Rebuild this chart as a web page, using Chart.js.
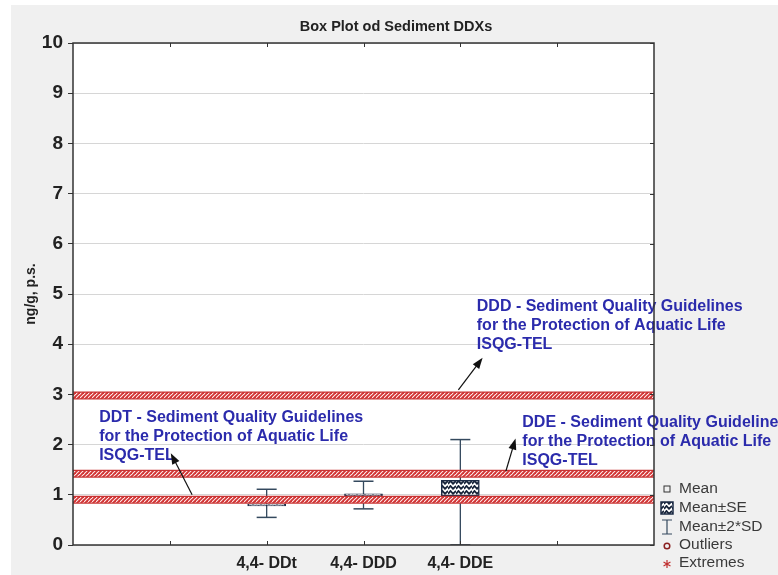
<!DOCTYPE html>
<html>
<head>
    <title>Box Plot od Sediment DDXs</title>
    <script src="https://cdn.jsdelivr.net/npm/chart.js"></script>
    <style>
        body {
            margin: 0;
            background-color: white;
        }
        canvas {
            display: block;
        }
    </style>
</head>
<body>
    <canvas id="boxChart" width="778" height="575"></canvas>

    <script>
    // chart values
    const categories = ['4,4- DDt', '4,4- DDD', '4,4- DDE'];
    const seLow = [0.78, 0.98, 0.98];      // Mean-SE
    const seHigh = [0.82, 1.02, 1.29];     // Mean+SE
    const sdLow = [0.55, 0.72, 0.0];       // Mean-2*SD
    const sdHigh = [1.11, 1.27, 2.10];     // Mean+2*SD
    const guidelineValues = [2.98, 1.42, 0.90];   // ISQG-TEL bands: DDD, DDE, DDT
    const noteNames = ['DDD', 'DDE', 'DDT'];
    const noteLines = ['Sediment Quality Guidelines', 'for the Protection of Aquatic Life', 'ISQG-TEL'];
    const legendLabels = ['Mean', 'Mean\u00b1SE', 'Mean\u00b12*SD', 'Outliers', 'Extremes'];

    const firstSlot = 2;   // categories sit on x = 2, 3, 4 of a 0..6 axis
    const slotCount = 6;

    // where the notes and their arrows sit, in axis units
    const notePlacement = [
        { x: 4.17, y: 4.74, tail: [3.98, 3.09], tip: [4.23, 3.73] },
        { x: 4.64, y: 2.43, tail: [4.47, 1.47], tip: [4.57, 2.12] },
        { x: 0.27, y: 2.53, tail: [1.23, 1.00], tip: [1.01, 1.83] }
    ];

    Chart.defaults.font.family = 'Arial, "Liberation Sans", sans-serif';

    const canvas = document.getElementById('boxChart');
    const mainCtx = canvas.getContext('2d');

    function makeBandPattern() {
        const c = document.createElement('canvas');
        c.width = 4; c.height = 4;
        const g = c.getContext('2d');
        g.fillStyle = '#fff4f4';
        g.fillRect(0, 0, 4, 4);
        g.strokeStyle = '#d23434';
        g.lineWidth = 1.9;
        g.beginPath(); g.moveTo(-1, 5); g.lineTo(5, -1); g.stroke();
        g.beginPath(); g.moveTo(-1, 1); g.lineTo(1, -1); g.stroke();
        g.beginPath(); g.moveTo(3, 5); g.lineTo(5, 3); g.stroke();
        return mainCtx.createPattern(c, 'repeat');
    }

    function makeBoxPattern() {
        const c = document.createElement('canvas');
        c.width = 8; c.height = 5;
        const g = c.getContext('2d');
        g.fillStyle = 'white';
        g.fillRect(0, 0, 8, 5);
        g.strokeStyle = '#17243a';
        g.lineWidth = 1.8;
        g.beginPath(); g.moveTo(0, 4); g.lineTo(2.5, 1); g.lineTo(5, 3.8); g.lineTo(8, 1); g.stroke();
        return mainCtx.createPattern(c, 'repeat');
    }

    const bandPattern = makeBandPattern();
    const boxPattern = makeBoxPattern();

    // whiskers: one segment per category, broken by null points
    const whiskerData = [];
    categories.forEach((c, i) => {
        whiskerData.push({ x: i + firstSlot, y: sdLow[i] });
        whiskerData.push({ x: i + firstSlot, y: sdHigh[i] });
        whiskerData.push({ x: i + firstSlot, y: null });
    });

    const bandDatasets = [];
    guidelineValues.forEach(v => {
        bandDatasets.push({
            type: 'line',
            data: [{ x: 0, y: v }, { x: slotCount, y: v }],
            borderColor: '#c83434',
            borderWidth: 8,
            borderCapStyle: 'butt',
            pointRadius: 0,
            order: 1
        });
        bandDatasets.push({
            type: 'line',
            data: [{ x: 0, y: v }, { x: slotCount, y: v }],
            borderColor: bandPattern,
            borderWidth: 5.5,
            borderCapStyle: 'butt',
            pointRadius: 0,
            order: 0
        });
    });

    const backgroundPlugin = {
        id: 'panel',
        beforeDraw(chart) {
            const ctx = chart.ctx;
            const a = chart.chartArea;
            ctx.save();
            ctx.fillStyle = 'white';
            ctx.fillRect(0, 0, chart.width, chart.height);
            ctx.fillStyle = '#f0f0f0';
            ctx.fillRect(11, 5, chart.width - 11, chart.height - 5);
            ctx.fillStyle = 'white';
            ctx.fillRect(a.left, a.top, a.right - a.left, a.bottom - a.top);
            ctx.restore();
        }
    };

    function drawArrow(ctx, x1, y1, x2, y2) {
        const ang = Math.atan2(y2 - y1, x2 - x1);
        ctx.beginPath();
        ctx.moveTo(x1, y1);
        ctx.lineTo(x2 - 6 * Math.cos(ang), y2 - 6 * Math.sin(ang));
        ctx.stroke();
        ctx.beginPath();
        ctx.moveTo(x2, y2);
        ctx.lineTo(x2 - 11 * Math.cos(ang) + 4 * Math.sin(ang), y2 - 11 * Math.sin(ang) - 4 * Math.cos(ang));
        ctx.lineTo(x2 - 11 * Math.cos(ang) - 4 * Math.sin(ang), y2 - 11 * Math.sin(ang) + 4 * Math.cos(ang));
        ctx.closePath();
        ctx.fill();
    }

    const overlayPlugin = {
        id: 'overlay',
        afterDraw(chart) {
            const ctx = chart.ctx;
            const xs = chart.scales.x;
            const ys = chart.scales.y;
            const a = chart.chartArea;
            ctx.save();

            // guideline notes + arrows
            ctx.font = 'bold 16px Arial, "Liberation Sans", sans-serif';
            ctx.textBaseline = 'middle';
            ctx.textAlign = 'left';
            notePlacement.forEach((p, i) => {
                const lines = [noteNames[i] + ' - ' + noteLines[0], noteLines[1], noteLines[2]];
                ctx.fillStyle = '#2b2bac';
                const x0 = xs.getPixelForValue(p.x);
                const y0 = ys.getPixelForValue(p.y);
                lines.forEach((t, k) => ctx.fillText(t, x0, y0 + k * 19));
                ctx.strokeStyle = '#111';
                ctx.fillStyle = '#111';
                ctx.lineWidth = 1.2;
                drawArrow(ctx,
                    xs.getPixelForValue(p.tail[0]), ys.getPixelForValue(p.tail[1]),
                    xs.getPixelForValue(p.tip[0]), ys.getPixelForValue(p.tip[1]));
            });

            // plot frame and inner ticks
            ctx.strokeStyle = '#333';
            ctx.lineWidth = 1.5;
            ctx.strokeRect(a.left, a.top, a.right - a.left, a.bottom - a.top);
            ctx.lineWidth = 1;
            xs.ticks.forEach(t => {
                if (t.value <= 0 || t.value >= slotCount) return;
                const px = Math.round(xs.getPixelForValue(t.value)) + 0.5;
                ctx.beginPath();
                ctx.moveTo(px, a.top); ctx.lineTo(px, a.top + 4);
                ctx.moveTo(px, a.bottom); ctx.lineTo(px, a.bottom - 4);
                ctx.stroke();
            });
            ys.ticks.forEach(t => {
                const py = Math.round(ys.getPixelForValue(t.value)) + 0.5;
                ctx.beginPath();
                ctx.moveTo(a.right, py); ctx.lineTo(a.right - 4, py);
                ctx.stroke();
            });

            // legend
            const lx = 667;
            const rows = [489, 508, 527, 545, 563];
            ctx.font = '15.5px Arial, "Liberation Sans", sans-serif';
            ctx.fillStyle = '#3a3a3a';
            legendLabels.forEach((t, i) => ctx.fillText(t, lx + 12, rows[i]));
            ctx.strokeStyle = '#333';
            ctx.lineWidth = 1;
            ctx.strokeRect(lx - 3, rows[0] - 3, 6, 6);
            ctx.fillStyle = boxPattern;
            ctx.fillRect(lx - 6, rows[1] - 6, 12, 12);
            ctx.strokeStyle = '#1c2b45';
            ctx.lineWidth = 1.5;
            ctx.strokeRect(lx - 6, rows[1] - 6, 12, 12);
            ctx.strokeStyle = '#34495e';
            ctx.lineWidth = 1.2;
            ctx.beginPath();
            ctx.moveTo(lx, rows[2] - 7); ctx.lineTo(lx, rows[2] + 7);
            ctx.moveTo(lx - 5, rows[2] - 7); ctx.lineTo(lx + 5, rows[2] - 7);
            ctx.moveTo(lx - 5, rows[2] + 7); ctx.lineTo(lx + 5, rows[2] + 7);
            ctx.stroke();
            ctx.strokeStyle = '#8a2020';
            ctx.lineWidth = 1.5;
            ctx.beginPath();
            ctx.arc(lx, rows[3] + 1, 2.8, 0, Math.PI * 2);
            ctx.stroke();
            ctx.strokeStyle = '#c03030';
            ctx.lineWidth = 1.2;
            ctx.beginPath();
            for (let k = 0; k < 3; k++) {
                const ang = Math.PI / 2 + k * Math.PI / 3;
                ctx.moveTo(lx + 4 * Math.cos(ang), rows[4] + 1 + 4 * Math.sin(ang));
                ctx.lineTo(lx - 4 * Math.cos(ang), rows[4] + 1 - 4 * Math.sin(ang));
            }
            ctx.stroke();

            ctx.restore();
        }
    };

    new Chart(canvas, {
        type: 'bar',
        data: {
            datasets: [
                ...bandDatasets,
                {
                    type: 'bar',
                    label: 'Mean\u00b1SE',
                    data: categories.map((c, i) => ({ x: i + firstSlot, y: [seLow[i], seHigh[i]] })),
                    backgroundColor: boxPattern,
                    borderColor: '#1c2b45',
                    borderWidth: 1.5,
                    borderSkipped: false,
                    barThickness: 38,
                    order: 2
                },
                {
                    type: 'line',
                    label: 'Mean\u00b12*SD',
                    data: whiskerData,
                    borderColor: '#34495e',
                    borderWidth: 1.3,
                    spanGaps: false,
                    pointStyle: 'line',
                    pointRadius: 10,
                    pointBorderWidth: 1.5,
                    pointBorderColor: '#34495e',
                    order: 3
                }
            ]
        },
        options: {
            responsive: false,
            animation: false,
            events: [],
            layout: { padding: { left: 14 } },
            plugins: {
                legend: { display: false },
                tooltip: { enabled: false },
                title: {
                    display: true,
                    text: 'Box Plot od Sediment DDXs',
                    color: '#222',
                    font: { size: 14.5, weight: 'bold' },
                    padding: { top: 18, bottom: 7.6 }
                }
            },
            scales: {
                x: {
                    type: 'linear',
                    min: 0,
                    max: slotCount,
                    offset: false,
                    grid: { display: false, drawTicks: false, offset: false },
                    border: { display: false },
                    ticks: {
                        stepSize: 1,
                        autoSkip: false,
                        maxRotation: 0,
                        padding: 9,
                        color: '#222',
                        font: { size: 16, weight: 'bold' },
                        callback: v => categories[v - firstSlot] || ''
                    },
                    afterFit: s => { s.height = 30; }
                },
                y: {
                    min: 0,
                    max: 10,
                    grid: { color: '#d6d6d6', tickColor: '#333', tickLength: 5 },
                    border: { display: false },
                    ticks: {
                        stepSize: 1,
                        padding: 5,
                        color: '#222',
                        font: { size: 19, weight: 'bold' }
                    },
                    title: {
                        display: true,
                        text: 'ng/g, p.s.',
                        color: '#222',
                        font: { size: 14, weight: 'bold' },
                        padding: { top: 9, bottom: 0 }
                    },
                    afterFit: s => { s.width = 59; }
                },
                yRight: {
                    position: 'right',
                    min: 0,
                    max: 10,
                    ticks: { display: false },
                    grid: { display: false, drawTicks: false },
                    border: { display: false },
                    afterFit: s => { s.width = 124; }
                }
            }
        },
        plugins: [backgroundPlugin, overlayPlugin]
    });
    </script>
</body>
</html>
